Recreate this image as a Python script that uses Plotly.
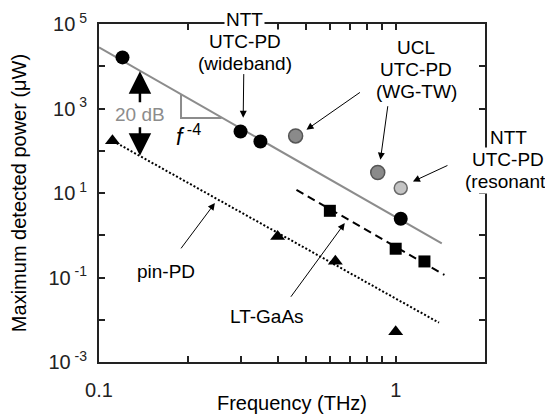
import math
import plotly.graph_objects as go

# ---------------- data ----------------
ntt_wide_f = [0.12, 0.30, 0.35, 1.04]
ntt_wide_p = [16200, 286, 166, 2.45]

ucl_f = [0.46, 0.87]
ucl_p = [224, 30.6]

ntt_res_f = [1.04]
ntt_res_p = [13.1]

ltgaas_f = [0.60, 1.00, 1.25]
ltgaas_p = [3.79, 0.48, 0.24]

pin_f = [0.111, 0.40, 0.626, 1.00]
pin_p = [173, 0.93, 0.243, 0.0052]

# trend lines (end points)
utc_line_f = [0.10, 1.43]
utc_line_p = [28000, 0.64]
lt_line_f = [0.463, 1.46]
lt_line_p = [11.9, 0.115]
pin_line_f = [0.1147, 1.40]
pin_line_p = [152, 0.0085]

# slope indicator (f^-4)
slope_f = [0.189, 0.189, 0.259]
slope_p = [2120, 596, 596]

x_tickvals = [0.1, 1.0]
x_ticktext = ["0.1", "1"]
x_minor = [0.2, 0.3, 0.4, 0.5, 0.6, 0.7, 0.8, 0.9, 2.0]
y_major = [-3, -1, 1, 3, 5]
y_minor = [-2, 0, 2, 4]

FONT = "Liberation Sans, Arial, sans-serif"
FS = 19
GRAY = "#8c8c8c"
AX = "#222222"

fig = go.Figure()

# lines
fig.add_trace(go.Scatter(x=utc_line_f, y=utc_line_p, mode="lines",
                         line=dict(color=GRAY, width=2), showlegend=False, hoverinfo="skip"))
fig.add_trace(go.Scatter(x=lt_line_f, y=lt_line_p, mode="lines",
                         line=dict(color="black", width=2, dash="8px,5px"), showlegend=False, hoverinfo="skip"))
fig.add_trace(go.Scatter(x=pin_line_f, y=pin_line_p, mode="lines",
                         line=dict(color="black", width=2, dash="2px,2px"), showlegend=False, hoverinfo="skip"))
fig.add_trace(go.Scatter(x=slope_f, y=slope_p, mode="lines",
                         line=dict(color=GRAY, width=2), showlegend=False, hoverinfo="skip"))

# markers
fig.add_trace(go.Scatter(x=ntt_wide_f, y=ntt_wide_p, mode="markers", name="NTT UTC-PD (wideband)",
                         marker=dict(symbol="circle", size=14, color="black"), showlegend=False))
fig.add_trace(go.Scatter(x=ucl_f, y=ucl_p, mode="markers", name="UCL UTC-PD (WG-TW)",
                         marker=dict(symbol="circle", size=14, color="#8a8a8a",
                                     line=dict(color="#555555", width=1.5)), showlegend=False))
fig.add_trace(go.Scatter(x=ntt_res_f, y=ntt_res_p, mode="markers", name="NTT UTC-PD (resonant)",
                         marker=dict(symbol="circle", size=13, color="#c4c4c4",
                                     line=dict(color="#6a6a6a", width=1.5)), showlegend=False))
fig.add_trace(go.Scatter(x=ltgaas_f, y=ltgaas_p, mode="markers", name="LT-GaAs",
                         marker=dict(symbol="square", size=12, color="black"), showlegend=False))
fig.add_trace(go.Scatter(x=pin_f, y=pin_p, mode="markers", name="pin-PD",
                         marker=dict(symbol="triangle-up", size=13, color="black"), showlegend=False))

L = math.log10
annotations = []

def text(f, p, s, color="black", size=FS, bg=None, xpaper=None, xanchor="center", yshift=0):
    d = dict(text=s, showarrow=False, font=dict(family=FONT, size=size, color=color),
             xanchor=xanchor, yanchor="middle", align="center", yshift=yshift)
    if xpaper is not None:
        d.update(xref="paper", x=xpaper, yref="y", y=L(p))
    else:
        d.update(xref="x", yref="y", x=L(f), y=L(p))
    if bg:
        d.update(bgcolor=bg, borderpad=1)
    annotations.append(d)

def block(f, p, lines, spacing=22, **kw):
    n = len(lines)
    for i, s in enumerate(lines):
        text(f, p, s, yshift=((n - 1) / 2 - i) * spacing, **kw)

def arrow(f0, p0, f1, p1, width=1, size=1.4, head=2, color="black"):
    annotations.append(dict(text="", showarrow=True, xref="x", yref="y", axref="x", ayref="y",
                            x=L(f1), y=L(p1), ax=L(f0), ay=L(p0), arrowhead=head,
                            arrowsize=size, arrowwidth=width, arrowcolor=color, standoff=0))

block(10**-0.5084, 10**4.58, ["NTT", "UTC-PD", "(wideband)"], bg="white")
arrow(10**-0.512, 10**3.85, 10**-0.514, 10**2.78)

block(10**0.0697, 10**3.92, ["UCL", "UTC-PD", "(WG-TW)"])
arrow(10**-0.1155, 10**3.405, 10**-0.3007, 10**2.498)
arrow(10**-0.0259, 10**3.09, 10**-0.0515, 10**1.787)

block(None, 10**1.787, ["NTT", "UTC-PD", "(resonant)"], bg="white", xpaper=(508 - 99) / 386)
arrow(10**0.1795, 10**1.668, 10**0.0582, 10**1.273)

text(10**-0.7744, 10**-0.86, "pin-PD")
arrow(10**-0.7273, 10**-0.346, 10**-0.6094, 10**0.761)

text(10**-0.4354, 10**-1.927, "LT-GaAs")
arrow(10**-0.3569, 10**-1.491, 10**-0.1717, 10**0.287)

text(10**-0.862, 10**2.853, "20 dB", color=GRAY)
arrow(10**-0.862, 10**3.114, 10**-0.862, 10**3.879, width=2.5, size=1.8, head=2)
arrow(10**-0.862, 10**2.592, 10**-0.862, 10**1.882, width=2.5, size=1.8, head=2)

text(10**-0.70, 10**2.38, "<i>f</i><sup> -4</sup>", size=23)

# the page body has an 8px default margin, so the figure is 8px smaller than the window
fig.update_layout(
    width=545, height=406,
    margin=dict(l=91, r=68, t=16, b=52),
    plot_bgcolor="white", paper_bgcolor="white",
    font=dict(family=FONT, size=FS, color="black"),
    annotations=annotations,
    showlegend=False,
)
fig.update_xaxes(type="log", range=[-1, L(2.0)], showgrid=False, zeroline=False, automargin=False,
                 showline=True, linecolor=AX, linewidth=2, mirror="ticks",
                 ticks="inside", ticklen=6, tickwidth=2, tickcolor=AX,
                 tickvals=x_tickvals, ticktext=x_ticktext,
                 minor=dict(tickvals=x_minor, ticks="inside", ticklen=6, tickwidth=2, tickcolor=AX, showgrid=False),
                 ticklabelstandoff=9,
                 tickfont=dict(family=FONT, size=20, color=AX),
                 title=dict(text="Frequency (THz)", font=dict(family=FONT, size=20), standoff=0))
fig.update_yaxes(type="log", range=[-3, 5], showgrid=False, zeroline=False, automargin=False,
                 showline=True, linecolor=AX, linewidth=2, mirror="ticks",
                 ticks="inside", ticklen=6, tickwidth=2, tickcolor=AX,
                 tickvals=[10.0 ** e for e in y_major],
                 ticktext=["10<sup> %d</sup>" % e for e in y_major],
                 minor=dict(tickvals=[10.0 ** e for e in y_minor], ticks="inside", ticklen=6, tickwidth=2,
                            tickcolor=AX, showgrid=False),
                 ticklabelstandoff=6,
                 tickfont=dict(family=FONT, size=20, color=AX),
                 title=dict(text="Maximum detected power (\u03bcW)", font=dict(family=FONT, size=20), standoff=16))

fig.write_html("out.html")
